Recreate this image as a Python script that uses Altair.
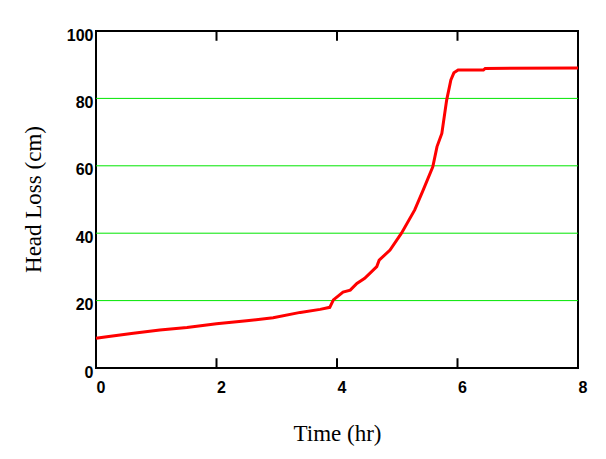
import altair as alt
import pandas as pd

# values
time_hr = [0, 0.18, 0.62, 1.06, 1.51, 2.0, 2.5, 2.94, 3.39, 3.72, 3.88, 3.94,
           4.10, 4.22, 4.33, 4.46, 4.66, 4.70, 4.88, 5.07, 5.29, 5.43, 5.59,
           5.66, 5.74, 5.82, 5.89, 5.94, 6.01, 6.43, 6.46, 8.0]
head_loss = [8.8, 9.3, 10.3, 11.3, 12.0, 13.1, 14.0, 14.9, 16.5, 17.4, 18.0, 20.2,
             22.5, 23.1, 25.1, 26.6, 30.1, 32.0, 35.0, 40.0, 46.9, 52.8, 59.7,
             65.7, 69.6, 79.5, 85.5, 87.6, 88.4, 88.4, 88.9, 89.0]
inner_ticks = [2, 4, 6]
grid_values = [20, 40, 60, 80]

curve = pd.DataFrame({"t": time_hr, "h": head_loss})
ticks = pd.DataFrame({"t": inner_ticks})
grid = pd.DataFrame({"h": grid_values})

label_font = "Liberation Sans"
title_font = "Liberation Serif"

x_scale = alt.Scale(domain=[0, 8], nice=False)
y_scale = alt.Scale(domain=[0, 100], nice=False)

line = (
    alt.Chart(curve)
    .mark_line(color="#ff0000", strokeWidth=3, clip=False)
    .encode(
        x=alt.X(
            "t:Q",
            scale=x_scale,
            axis=alt.Axis(
                title="Time (hr)",
                values=[0, 2, 4, 6, 8],
                format="d",
                grid=False,
                ticks=False,
                domain=False,
                labelAlign="left",
                labelPadding=11,
                titleX=241,
                titleY=65,
                titleBaseline="middle",
            ),
        ),
        y=alt.Y(
            "h:Q",
            scale=y_scale,
            axis=alt.Axis(
                title="Head Loss (cm)",
                values=[0, 20, 40, 60, 80, 100],
                format="d",
                grid=False,
                ticks=False,
                domain=False,
                labelPadding=3,
                labelOffset=4,
                titleX=-63,
                titleY=168,
                titleAngle=-90,
                titleAlign="center",
                titleBaseline="middle",
            ),
        ),
    )
)

gridlines = (
    alt.Chart(grid)
    .mark_rule(color="#00e600", strokeWidth=1)
    .encode(y=alt.Y("h:Q", scale=y_scale))
)

bottom_ticks = (
    alt.Chart(ticks)
    .mark_rule(color="black", strokeWidth=2)
    .encode(x=alt.X("t:Q", scale=x_scale), y=alt.datum(0), y2=alt.datum(2.9))
)
top_ticks = (
    alt.Chart(ticks)
    .mark_rule(color="black", strokeWidth=2)
    .encode(x=alt.X("t:Q", scale=x_scale), y=alt.datum(97.1), y2=alt.datum(100))
)

chart = (
    alt.layer(gridlines, bottom_ticks, top_ticks, line)
    .properties(
        width=482,
        height=337,
        autosize=alt.AutoSizeParams(type="none"),
        padding={"left": 88, "top": 23, "right": 20, "bottom": 83},
    )
    .configure_view(stroke="black", strokeWidth=2)
    .configure_axis(
        labelFont=label_font,
        labelFontSize=16,
        labelFontWeight="bold",
        labelColor="black",
        titleFont=title_font,
        titleFontSize=23,
        titleFontWeight="normal",
        titleColor="black",
    )
)

chart.save("out.html", embed_options={"renderer": "svg", "actions": False})
